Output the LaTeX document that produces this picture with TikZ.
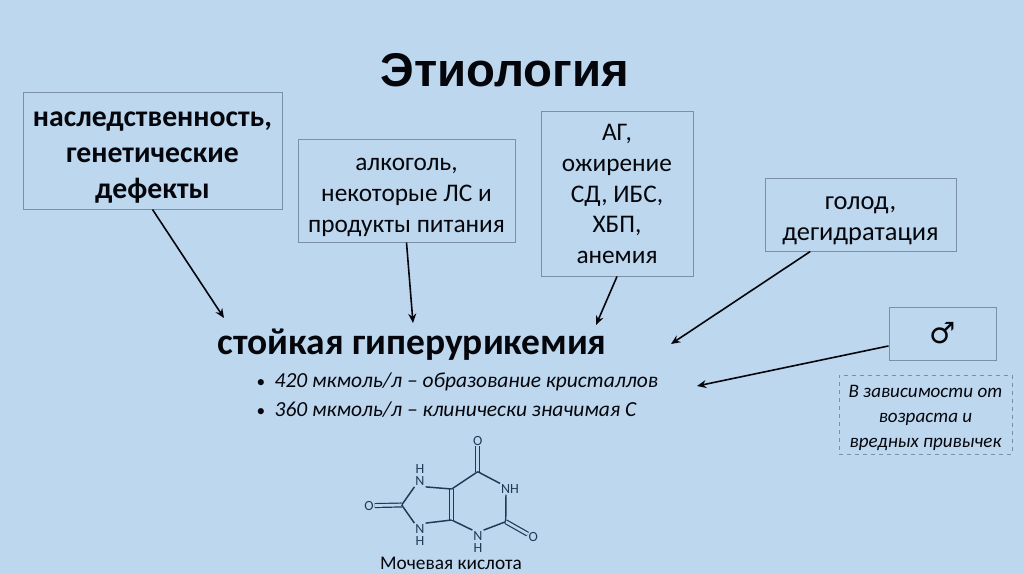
\documentclass[tikz,border=0pt]{standalone}
\usepackage{fontspec}
\usepackage{xcolor}
\setmainfont{Carlito}
\newfontfamily\titlefont{Liberation Sans}
\newfontfamily\symbfont{DejaVu Sans}
\usetikzlibrary{arrows.meta}
\definecolor{slidebg}{HTML}{BDD7EE}
\definecolor{slideink}{HTML}{05060C}
\definecolor{slideedge}{HTML}{7B8FA6}
\definecolor{bondink}{HTML}{1F3A55}
\newcommand{\lift}[1]{\rule{0pt}{#1}}
\begin{document}
\begin{tikzpicture}[
  x=0.75pt,y=-0.75pt,
  every node/.style={text=slideink},
  factor/.style={draw=slideedge,line width=0.75pt,minimum width=#1,align=center,inner sep=0pt},
  plain/.style={font=\fontsize{19}{23}\selectfont},
  heavy/.style={font=\fontsize{22.3}{27}\selectfont\bfseries},
  note/.style={draw=slideedge,dashed,line width=0.75pt,align=center,inner sep=0pt,
               minimum width=129.75pt,minimum height=59.25pt,
               font=\fontsize{14.3}{18.75}\selectfont\itshape},
  arr/.style={-{Stealth[length=7pt,width=6pt]},slideink,line width=1.2pt},
  atom/.style={inner sep=0.6pt,text=bondink,font=\fontsize{10.5}{9.5}\selectfont,align=center},
  bond/.style={bondink,line width=1.1pt},
  dbond/.style={bondink,line width=0.9pt,double=slidebg,double distance=2pt}
]
\fill[slidebg] (0,0) rectangle (1024,574);
\useasboundingbox (0,0) rectangle (1024,574);

% title
\node[font=\titlefont\fontsize{35.5}{40}\selectfont\bfseries] (title) at (505,70) {Этиология};

% factors
\node[factor=194.25pt,minimum height=87pt,heavy] (heredity) at (152.5,151)
  {\lift{21pt}наследственность,\\ генетические\\ дефекты};
\node[factor=162.75pt,minimum height=76.5pt,plain] (alcohol) at (406.5,191)
  {\lift{19pt}алкоголь,\\ некоторые ЛС и\\ продукты питания};
\node[factor=114pt,minimum height=123pt,plain] (comorbid) at (617,194)
  {АГ,\\ ожирение\\ СД, ИБС,\\ ХБП,\\ анемия};
\node[factor=143.25pt,minimum height=54pt,font=\fontsize{19.8}{23}\selectfont] (hunger) at (860.5,215)
  {\lift{18pt}голод,\\ дегидратация};
\node[factor=80.25pt,minimum height=39.75pt,font=\symbfont\fontsize{22}{24}\selectfont] (male) at (942.5,333.5) {♂};
\node[note] (agenote) at (925.5,414.5) {\lift{15pt}В зависимости от\\ возраста и\\ вредных привычек};

% centre
\node[font=\fontsize{28.1}{32}\selectfont\bfseries,anchor=west] (hyper) at (213,345) {стойкая гиперурикемия};
\node[font=\fontsize{16.1}{21.75}\selectfont\itshape,align=left,anchor=west] (levels) at (252,395)
  {\makebox[13.5pt][l]{\upshape\fontsize{13}{13}\selectfont•}420 мкмоль/л – образование кристаллов\\
   \makebox[13.5pt][l]{\upshape\fontsize{13}{13}\selectfont•}360 мкмоль/л – клинически значимая С};

% arrow tips
\coordinate (tipa) at (224,318);
\coordinate (tipb) at (413,323);
\coordinate (tipc) at (596,325);
\coordinate (tipd) at (671,344);
\coordinate (tipe) at (697,386);
\draw[arr] (heredity.south) -- (tipa);
\draw[arr] (alcohol.south) -- (tipb);
\draw[arr] (comorbid.south) -- (tipc);
\draw[arr] (hunger.216) -- (tipd);
\draw[arr] (male.193) -- (tipe);

% uric acid
\coordinate (c6) at (477.7,471.7);
\coordinate (c5) at (451.7,489);
\coordinate (c4) at (451.7,520);
\coordinate (c2) at (505.7,521.7);
\coordinate (c8) at (401.7,505);
\node[atom] (o6) at (477.7,440.7) {O};
\node[atom] (n1) at (510,489) {NH};
\node[atom] (o2) at (533.3,537.3) {O};
\node[atom] (n3) at (478,542) {N\\ H};
\node[atom] (n9) at (420,535) {N\\ H};
\node[atom] (n7) at (420,475) {H\\ N};
\node[atom] (o8) at (369,505.7) {O};
\draw[dbond] (o6) -- (c6);
\draw[bond] (c6) -- (n1.north west);
\draw[bond] (n1.south) ++(-4,0) -- (c2);
\draw[dbond] (c2) -- (o2);
\draw[bond] (c2) -- (n3.north east);
\draw[bond] (n3.north west) -- (c4);
\draw[dbond] (c4) -- (c5);
\draw[bond] (c5) -- (c6);
\draw[bond] (c5) -- (n7.south east);
\draw[bond] (n7.south west) -- (c8);
\draw[dbond] (c8) -- (o8);
\draw[bond] (c8) -- (n9.north west);
\draw[bond] (n9.north east) -- (c4);

\node[font=\fontsize{14.5}{16}\selectfont] (uric) at (451,563) {Мочевая кислота};
\end{tikzpicture}
\end{document}
